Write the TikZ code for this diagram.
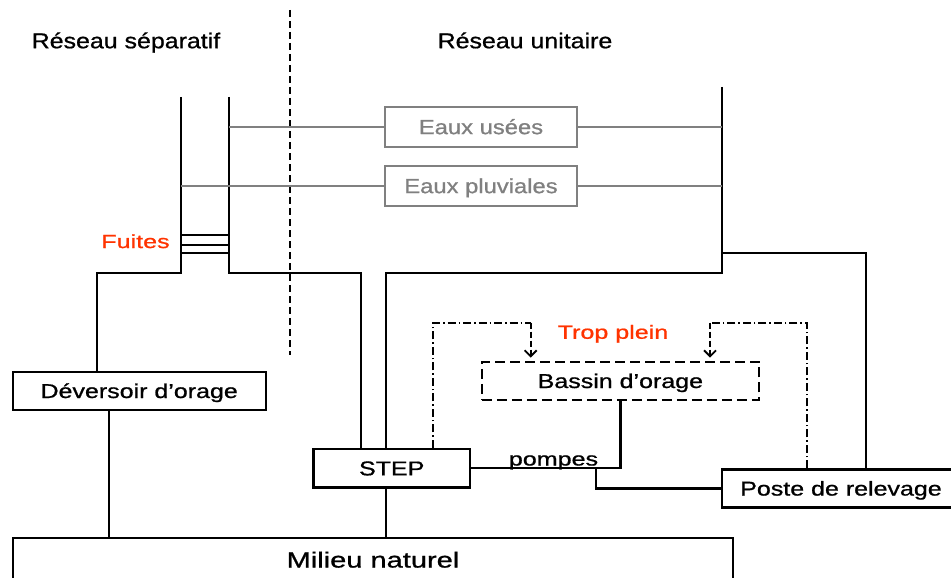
\documentclass[tikz,border=0pt]{standalone}
\usepackage{fontspec}
\usepackage{graphicx}
\setmainfont{Liberation Sans}[BoldFont={Liberation Sans},BoldFeatures={FakeBold=0.8}]
\usetikzlibrary{arrows.meta}
\definecolor{redtxt}{RGB}{255,51,0}
\definecolor{gline}{RGB}{128,128,128}
\newcommand\wt[1]{\scalebox{1.25}[1]{#1}}
\newcommand\wh[1]{\scalebox{1.16}[1]{#1}}
\newcommand\wm[1]{\scalebox{1.32}[1]{#1}}
\tikzset{
  pipe/.style={line width=2.3pt, black},
  gpipe/.style={line width=2.3pt, gline},
  txt/.style={inner sep=0pt, text height=14.3pt, text depth=0pt, font=\fontsize{20}{24}\selectfont\bfseries},
  box/.style={txt, draw, line width=2.3pt, minimum height=38.3pt},
  gbox/.style={txt, draw=gline, text=gline, line width=2.3pt, minimum width=192pt, minimum height=40pt, font=\fontsize{20.5}{24}\selectfont\bfseries},
  lbl/.style={txt},
  ddot/.style={line width=1.8pt, dash pattern=on 8pt off 3pt on 1.5pt off 3pt},
  ovf/.style={line width=1.8pt, dash pattern=on 6pt off 3pt, -{Straight Barb[length=6pt,width=12pt,line width=1.8pt]}, shorten >=3pt},
}
\begin{document}
\begin{tikzpicture}[x=1pt,y=-1pt]
\useasboundingbox (0,0) rectangle (951,578);

% labels
\node[lbl, text height=15.5pt, font=\fontsize{21.5}{25}\selectfont\bfseries] (tsep) at (126,40.5) {\wh{Réseau séparatif}};
\node[lbl, text height=15.5pt, font=\fontsize{21.5}{25}\selectfont\bfseries] (tuni) at (525,40.5) {\wh{Réseau unitaire}};
\node[lbl, text=redtxt, text height=13.5pt, font=\fontsize{19}{23}\selectfont\bfseries] (tfuites) at (135.5,241.3) {\wm{Fuites}};
\node[lbl, text=redtxt, text height=13.5pt, font=\fontsize{19}{23}\selectfont\bfseries] (ttrop) at (613,332) {\wm{Trop plein}};

% separation line
\coordinate (sepTop) at (290,10);
\coordinate (sepBot) at (290,355);
\draw[line width=2.3pt, dash pattern=on 7pt off 4pt] (sepTop) -- (sepBot);

% boxes
\node[gbox] (usees) at (481,127) {\wh{Eaux usées}};
\node[gbox] (pluv) at (481,186) {\wh{Eaux pluviales}};
\node[box, minimum width=253pt] (dev) at (139.2,390.85) {\wt{Déversoir d’orage}};
\node[box, minimum width=156.7pt] (step) at (391.7,468.2) {\wt{STEP}};
\node[box, dash pattern=on 10pt off 5pt, minimum width=277.3pt] (bassin) at (620.4,380.85) {\wt{Bassin d’orage}};
\node[box, minimum width=238.6pt, minimum height=38pt] (poste) at (841,488.4) {\wt{Poste de relevage}};
\node[box, minimum width=720.6pt, minimum height=44pt, text height=15.7pt, font=\fontsize{22}{26}\selectfont\bfseries] (mil) at (373,559.7) {\wm{Milieu naturel}};

% coordinates
\coordinate (sepL) at (181,97);
\coordinate (sepR) at (229,97);
\coordinate (uniR) at (722,87);
\coordinate (bendL) at (97,272.7);
\coordinate (bendR) at (361,272.7);
\coordinate (uniB) at (385.7,272.7);
\coordinate (br) at (722,253.3);
\coordinate (brR) at (865.7,253.3);
\coordinate (devx) at (109.3,0);
\coordinate (pjx) at (595.7,0);

% pipes
\draw[pipe] (sepL) |- (bendL) -- (bendL |- dev.north);
\draw[pipe] (sepR) |- (bendR) -- (bendR |- step.north);
\draw[pipe] (uniR) |- (uniB) -- (uniB |- step.north);
\draw[pipe] (br) -- (brR) -- (brR |- poste.north);
\draw[pipe] (dev.south -| devx) -- (devx |- mil.north);
\draw[pipe] (uniB |- step.south) -- (uniB |- mil.north);
\draw[pipe] (step.east) -| (bassin.south);
\draw[pipe] (step.east -| pjx) |- (poste.west);
\foreach \yy in {235.3,245,253} \draw[pipe] (181,\yy) -- (229,\yy);

% gray lines
\draw[gpipe] (usees.west -| sepR) -- (usees.west);
\draw[gpipe] (usees.east) -- (usees.east -| uniR);
\draw[gpipe] (pluv.west -| sepL) -- (pluv.west);
\draw[gpipe] (pluv.east) -- (pluv.east -| uniR);

% pompes
\node[inner sep=0pt, anchor=base, font=\fontsize{19}{23}\selectfont\bfseries] (tpompes) at (553.5,465.5) {\wm{pompes}};

% overflow loops
\coordinate (dl1) at (433.3,322.7);
\coordinate (dl2) at (530.7,322.7);
\coordinate (dr1) at (806.7,322.7);
\coordinate (dr2) at (710,322.7);
\draw[ddot] (step.north -| dl1) |- (dl2);
\draw[ovf] (dl2) -- (dl2 |- bassin.north);
\draw[ddot] (poste.north -| dr1) |- (dr2);
\draw[ovf] (dr2) -- (dr2 |- bassin.north);
\end{tikzpicture}
\end{document}
